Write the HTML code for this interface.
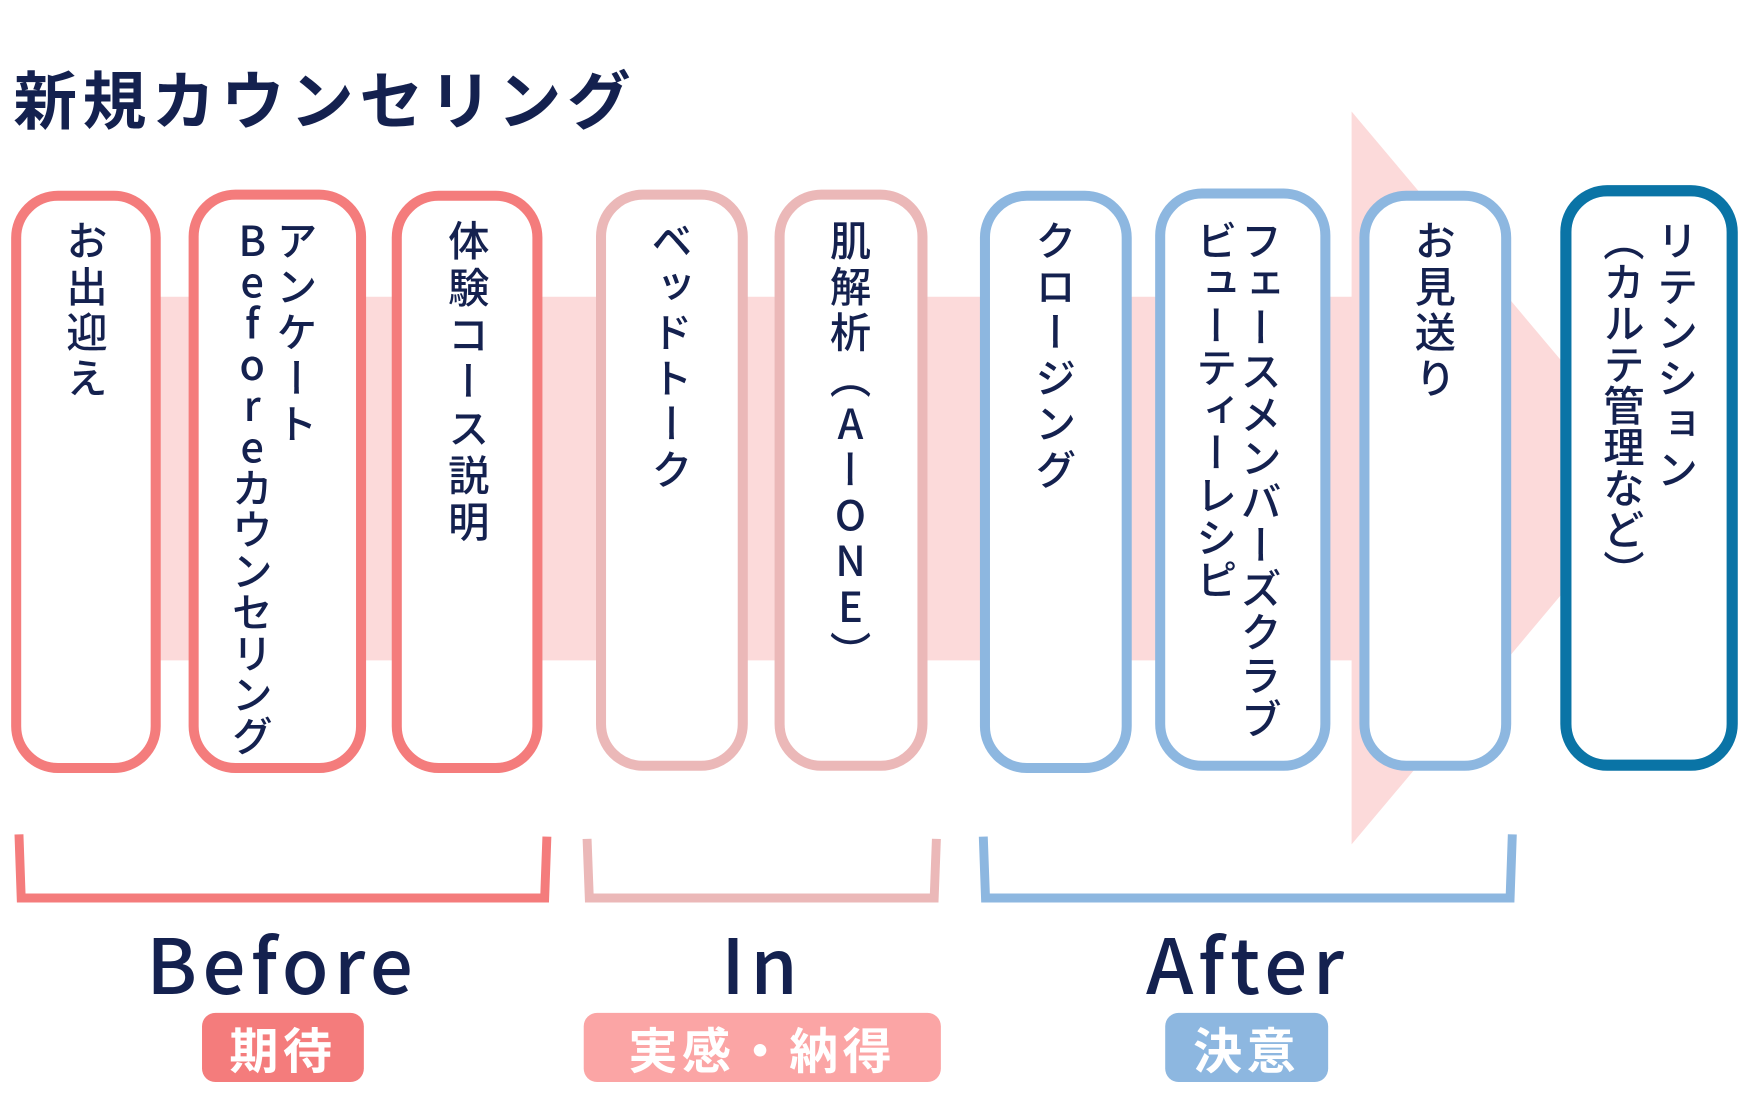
<!DOCTYPE html>
<html><head><meta charset="utf-8"><style>
html,body{margin:0;padding:0;background:#fff;width:1750px;height:1101px;overflow:hidden}
#w{position:absolute;left:0;top:0;width:1568px;height:987px;transform-origin:0 0;transform:scale(1.1161,1.1155)}
.box{position:absolute;box-sizing:border-box;background:#fff;border:9px solid;border-radius:42px}
.v{position:absolute;top:197px;writing-mode:vertical-rl;text-orientation:upright;font-family:"Noto Sans CJK JP",sans-serif;font-size:37px;line-height:40px;letter-spacing:4px;color:#14214f;font-weight:500;transform:translateX(-50%)}
.lab{position:absolute;font-family:"Noto Sans CJK JP","Liberation Sans",sans-serif;font-weight:500;color:#14214f;font-size:68px;letter-spacing:5px;top:817px;text-align:center;line-height:90px}
.pill{position:absolute;top:908px;height:62px;border-radius:12px;color:#fff;font-family:"Noto Sans CJK JP",sans-serif;font-weight:700;font-size:44px;line-height:62px;text-align:center;letter-spacing:4px}
</style></head><body><div id="w">
<svg width="1568" height="987" style="position:absolute;left:0;top:0">
<polygon points="80,266 1211,266 1211,100 1487,428 1211,757 1211,592 80,592" fill="#fcdada"/>
<g fill="none" stroke-width="8" stroke-linejoin="miter">
<polyline points="17,748 19,805 488,805 490,750" stroke="#f47c7c"/>
<polyline points="526,752 528,805 837,805 839,752" stroke="#ebb8b8"/>
<polyline points="881,750 883,805 1353,805 1355,748" stroke="#8db7e0"/>
</g>
</svg>
<div style="position:absolute;left:12px;top:52px;font-family:'Noto Sans CJK JP',sans-serif;font-weight:700;font-size:57px;letter-spacing:5px;color:#14214f;line-height:70px">新規カウンセリング</div>

<div class="box" style="left:10px;top:171px;width:134px;height:522px;border-color:#f47c7c"></div>
<div class="box" style="left:169px;top:170px;width:159px;height:523px;border-color:#f47c7c"></div>
<div class="box" style="left:351px;top:171px;width:135px;height:522px;border-color:#f47c7c"></div>
<div class="box" style="left:534px;top:170px;width:136px;height:521px;border-color:#ebb8b8"></div>
<div class="box" style="left:694px;top:170px;width:137px;height:521px;border-color:#ebb8b8"></div>
<div class="box" style="left:878px;top:171px;width:136px;height:522px;border-color:#8db7e0"></div>
<div class="box" style="left:1035px;top:169px;width:157px;height:522px;border-color:#8db7e0"></div>
<div class="box" style="left:1218px;top:171px;width:136px;height:520px;border-color:#8db7e0"></div>
<div class="box" style="left:1398px;top:166px;width:159px;height:525px;border-color:#0a74a6;border-width:10px"></div>

<div class="v" style="left:78px">お出迎え</div>
<div class="v" style="left:266px">アンケート</div>
<div class="v" style="left:226px;letter-spacing:0px;line-height:40px">Beforeカウンセリング</div>
<div class="v" style="left:420px;letter-spacing:5px">体験コース説明</div>
<div class="v" style="left:602px">ベッドトーク</div>
<div class="v" style="left:762px;letter-spacing:4px">肌解析（AーONE）</div>
<div class="v" style="left:946px">クロージング</div>
<div class="v" style="left:1130px;letter-spacing:2px">フェースメンバーズクラブ</div>
<div class="v" style="left:1090px;letter-spacing:1px">ビューティーレシピ</div>
<div class="v" style="left:1286px">お見送り</div>
<div class="v" style="left:1503px">リテンション</div>
<div class="v" style="left:1455px;letter-spacing:0px">（カルテ管理など）</div>

<div class="lab" style="left:103px;width:300px">Before</div>
<div class="lab" style="left:583px;width:200px">In</div>
<div class="lab" style="left:968px;width:300px">After</div>

<div class="pill" style="left:181px;width:145px;background:#f47c7c">期待</div>
<div class="pill" style="left:523px;width:320px;background:#fba5a5">実感・納得</div>
<div class="pill" style="left:1044px;width:146px;background:#8db7e0">決意</div>
</div></body></html>
